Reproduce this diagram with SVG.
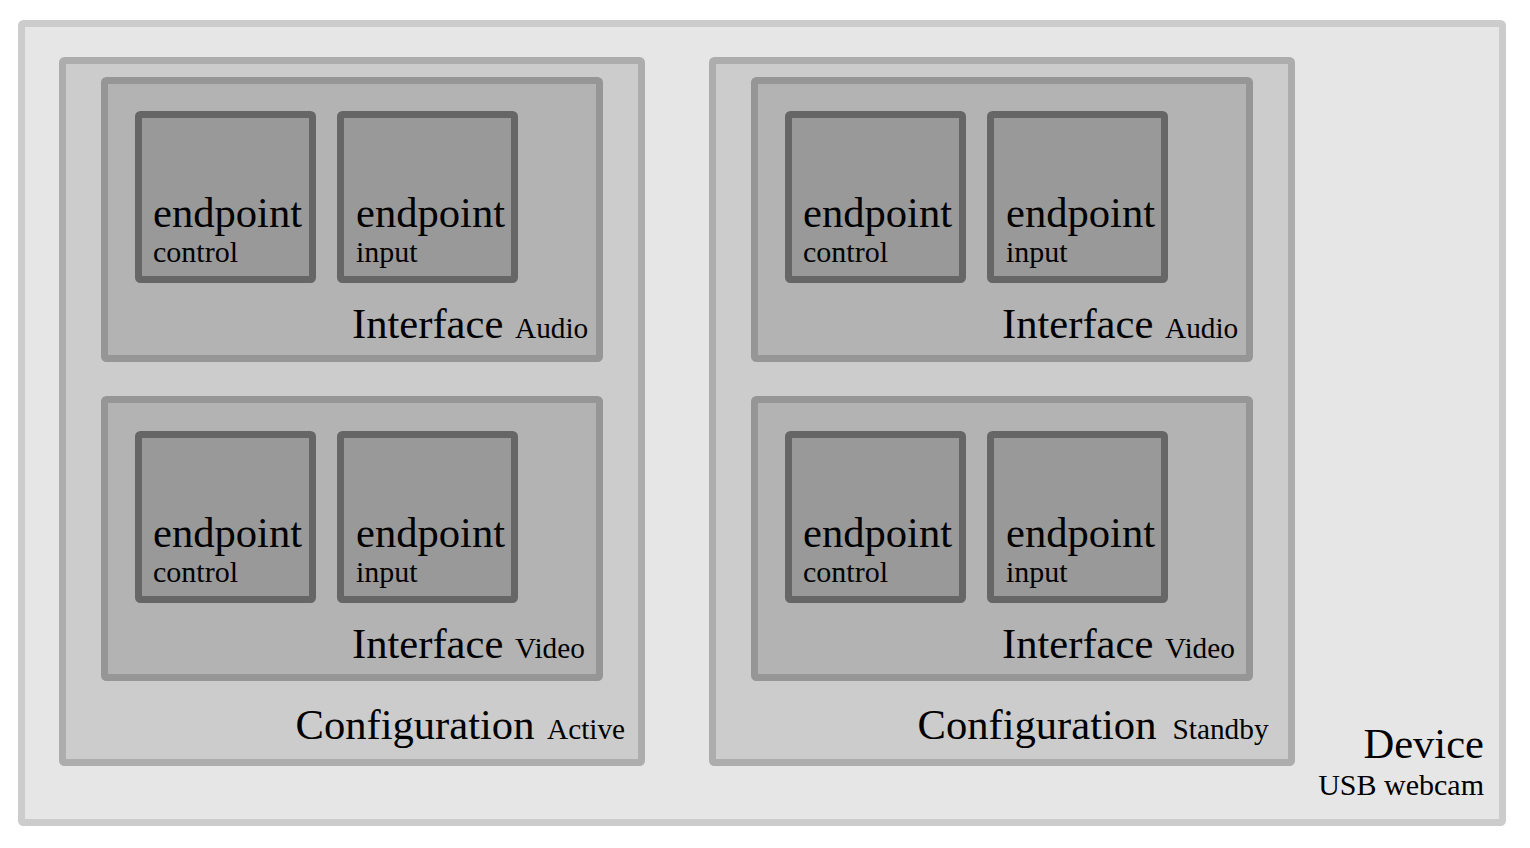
<svg xmlns="http://www.w3.org/2000/svg" width="1530" height="848" viewBox="0 0 1530 848">
<style>
.dev{fill:#e6e6e6;stroke:#cccccc;stroke-width:7}
.cfg{fill:#cccccc;stroke:#adadad;stroke-width:7}
.itf{fill:#b3b3b3;stroke:#969696;stroke-width:7}
.ep{fill:#999999;stroke:#666666;stroke-width:7}
text{font-family:"Liberation Serif","Times New Roman",serif;fill:#000}
.t{font-size:42.6px}
.s{font-size:29.3px}
.s2{font-size:30px}
</style>
<rect width="1530" height="848" fill="#ffffff"/>
<g id="device">
<rect class="dev" x="21.5" y="23.5" width="1481" height="799" rx="2"/>
<text class="t" x="1484" y="757.5" text-anchor="end">Device</text>
<text class="s2" x="1484" y="794.5" text-anchor="end">USB webcam</text>
</g>
<g id="config-active">
<rect class="cfg" x="62.5" y="60.5" width="579" height="702" rx="2"/>
<text class="t" x="295.5" y="739">Configuration</text>
<text class="s" x="547" y="739">Active</text>
</g>
<g id="config-standby">
<rect class="cfg" x="712.5" y="60.5" width="579" height="702" rx="2"/>
<text class="t" x="917.5" y="739">Configuration</text>
<text class="s" x="1172.5" y="739">Standby</text>
</g>
<g id="iface-active-audio">
<rect class="itf" x="104.5" y="80.5" width="495" height="278" rx="2"/>
<text class="t" x="352" y="337.7">Interface</text>
<text class="s" x="515" y="337.7">Audio</text>
</g>
<g id="iface-active-video">
<rect class="itf" x="104.5" y="399.5" width="495" height="278" rx="2"/>
<text class="t" x="352" y="657.7">Interface</text>
<text class="s" x="515" y="657.7">Video</text>
</g>
<g id="iface-standby-audio">
<rect class="itf" x="754.5" y="80.5" width="495" height="278" rx="2"/>
<text class="t" x="1002" y="337.7">Interface</text>
<text class="s" x="1165" y="337.7">Audio</text>
</g>
<g id="iface-standby-video">
<rect class="itf" x="754.5" y="399.5" width="495" height="278" rx="2"/>
<text class="t" x="1002" y="657.7">Interface</text>
<text class="s" x="1165" y="657.7">Video</text>
</g>
<g id="ep-a-audio-control">
<rect class="ep" x="138.5" y="114.5" width="174" height="165" rx="2"/>
<text class="t" x="153" y="226.7">endpoint</text>
<text class="s2" x="153" y="262">control</text>
</g>
<g id="ep-a-audio-input">
<rect class="ep" x="340.5" y="114.5" width="174" height="165" rx="2"/>
<text class="t" x="356" y="226.7">endpoint</text>
<text class="s2" x="356" y="262">input</text>
</g>
<g id="ep-a-video-control">
<rect class="ep" x="138.5" y="434.5" width="174" height="165" rx="2"/>
<text class="t" x="153" y="546.7">endpoint</text>
<text class="s2" x="153" y="582">control</text>
</g>
<g id="ep-a-video-input">
<rect class="ep" x="340.5" y="434.5" width="174" height="165" rx="2"/>
<text class="t" x="356" y="546.7">endpoint</text>
<text class="s2" x="356" y="582">input</text>
</g>
<g id="ep-s-audio-control">
<rect class="ep" x="788.5" y="114.5" width="174" height="165" rx="2"/>
<text class="t" x="803" y="226.7">endpoint</text>
<text class="s2" x="803" y="262">control</text>
</g>
<g id="ep-s-audio-input">
<rect class="ep" x="990.5" y="114.5" width="174" height="165" rx="2"/>
<text class="t" x="1006" y="226.7">endpoint</text>
<text class="s2" x="1006" y="262">input</text>
</g>
<g id="ep-s-video-control">
<rect class="ep" x="788.5" y="434.5" width="174" height="165" rx="2"/>
<text class="t" x="803" y="546.7">endpoint</text>
<text class="s2" x="803" y="582">control</text>
</g>
<g id="ep-s-video-input">
<rect class="ep" x="990.5" y="434.5" width="174" height="165" rx="2"/>
<text class="t" x="1006" y="546.7">endpoint</text>
<text class="s2" x="1006" y="582">input</text>
</g>
<g id="connectors"></g>
</svg>
